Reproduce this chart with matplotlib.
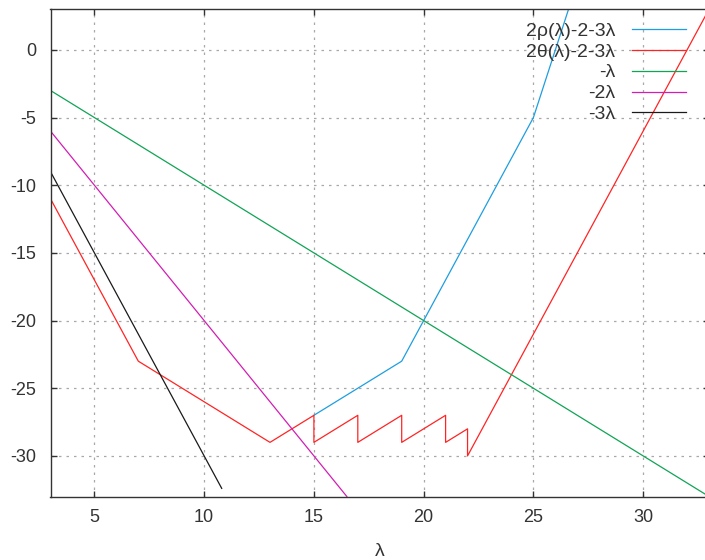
import matplotlib.pyplot as plt

plt.rcParams['font.family'] = ['Liberation Sans', 'DejaVu Sans']
plt.rcParams['axes.unicode_minus'] = False

# 2rho(lambda)-2-3lambda
rho_x = [15, 19, 25, 27]
rho_y = [-27, -23, -5, 5]

# 2theta(lambda)-2-3lambda
theta_x = [3, 7, 13, 15, 15, 17, 17, 19, 19, 21, 21, 22, 22, 33]
theta_y = [-11, -23, -29, -27, -29, -27, -29, -27, -29, -27, -29, -28, -30, 3]

# reference lines
lam1_x = [3, 33]
lam1_y = [-3, -33]
lam2_x = [3, 16.5]
lam2_y = [-6, -33]
lam3_x = [3, 10.8]
lam3_y = [-9, -32.4]

x_ticks = [5, 10, 15, 20, 25, 30]
y_ticks = [0, -5, -10, -15, -20, -25, -30]


def main():
    fig = plt.figure(figsize=(7.05, 5.6), dpi=100)
    ax = fig.add_axes([50.5 / 705, (560 - 496.5) / 560,
                       (709 - 50.5) / 705, (496.5 - 9.3) / 560])

    lw = 0.9
    ax.plot(rho_x, rho_y, color='#1e9ee0', lw=lw, label='2ρ(λ)-2-3λ')
    ax.plot(theta_x, theta_y, color='#ff2424', lw=lw, label='2θ(λ)-2-3λ')
    ax.plot(lam1_x, lam1_y, color='#10a455', lw=lw, label='-λ')
    ax.plot(lam2_x, lam2_y, color='#d21eb4', lw=lw, label='-2λ')
    ax.plot(lam3_x, lam3_y, color='#1a1a1a', lw=lw, label='-3λ')

    ax.set_xlim(3, 33)
    ax.set_ylim(-33, 3)
    ax.set_xticks(x_ticks)
    ax.set_yticks(y_ticks)
    ax.tick_params(direction='in', length=4, width=1, labelsize=13,
                   pad=10, colors='#333333', top=True, right=True)
    ax.tick_params(axis='x', pad=9)
    ax.grid(True, color='#a8a8a8', linestyle=(0, (2, 4)), linewidth=0.9)
    for s in ax.spines.values():
        s.set_color('#333333')
        s.set_linewidth(1.0)

    ax.set_xlabel('λ', fontsize=14, labelpad=12, color='#333333')

    leg = ax.legend(loc='upper right', bbox_to_anchor=(686 / 705, 1 - 22 / 560),
                    bbox_transform=fig.transFigure, frameon=False,
                    markerfirst=False, fontsize=14, handlelength=2.8,
                    handletextpad=0.85, labelspacing=0.17, borderpad=0,
                    borderaxespad=0)
    for t in leg.get_texts():
        t.set_color('#333333')

    fig.savefig('out.png', dpi=100)


if __name__ == "__main__":
    main()
